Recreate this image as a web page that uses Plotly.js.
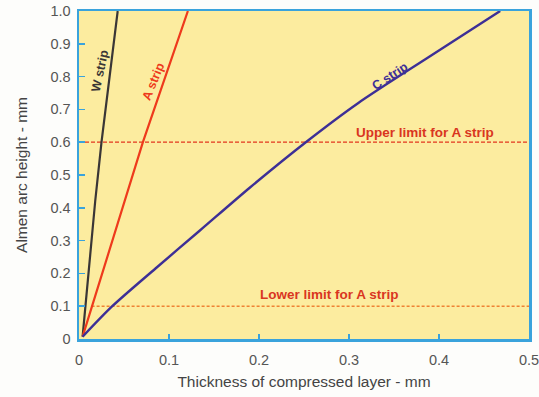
<!DOCTYPE html>
<html>
<head>
<meta charset="utf-8">
<script src="https://cdn.plot.ly/plotly-3.0.1.min.js"></script>
<style>html,body{margin:0;padding:0;background:#fdfdfb;}#chart{width:539px;height:397px;}</style>
</head>
<body>
<div id="chart"></div>
<script>
// Data (x: thickness mm, y: Almen arc height mm)
var wStripX = [0.004, 0.018, 0.025, 0.043];
var wStripY = [0.007, 0.42, 0.6, 1.0];
var aStripX = [0.004, 0.0585, 0.071, 0.121];
var aStripY = [0.007, 0.485, 0.6, 1.0];
var cStripX = [0.004, 0.037, 0.085, 0.134, 0.19, 0.252, 0.31, 0.39, 0.468];
var cStripY = [0.007, 0.1, 0.215, 0.33, 0.462, 0.6, 0.719, 0.862, 1.0];
var upperLimitX = [0, 0.5];
var upperLimitY = [0.6, 0.6];
var lowerLimitX = [0.014, 0.5];
var lowerLimitY = [0.1, 0.1];
var xTickVals = [0, 0.1, 0.2, 0.3, 0.4, 0.5];
var xTickText = ["0", "0.1", "0.2", "0.3", "0.4", "0.5"];
var yTickVals = [0, 0.1, 0.2, 0.3, 0.4, 0.5, 0.6, 0.7, 0.8, 0.9, 1.0];
var yTickText = ["0", "0.1", "0.2", "0.3", "0.4", "0.5", "0.6", "0.7", "0.8", "0.9", "1.0"];

var traces = [
  {x: upperLimitX, y: upperLimitY, mode: 'lines', line: {color: '#e2361f', width: 1.2, dash: '4px,2px'}, hoverinfo: 'skip', name: 'Upper limit'},
  {x: lowerLimitX, y: lowerLimitY, mode: 'lines', line: {color: '#ee8234', width: 1.6, dash: '3px,2px'}, hoverinfo: 'skip', name: 'Lower limit'},
  {x: wStripX, y: wStripY, mode: 'lines', line: {color: '#3a3636', width: 2.2}, name: 'W strip'},
  {x: aStripX, y: aStripY, mode: 'lines', line: {color: '#ee3a1c', width: 2.2}, name: 'A strip'},
  {x: cStripX, y: cStripY, mode: 'lines', line: {color: '#3d2f96', width: 2.4, shape: 'spline', smoothing: 0.8}, name: 'C strip'}
];

var font = "'Liberation Sans', Arial, sans-serif";
var layout = {
  width: 539, height: 397,
  margin: {l: 79, r: 10, t: 11, b: 58},
  paper_bgcolor: '#fdfdfb',
  plot_bgcolor: '#fcec9f',
  showlegend: false,
  font: {family: font, size: 14, color: '#555555'},
  xaxis: {
    range: [0, 0.5], tickvals: xTickVals, ticktext: xTickText,
    showgrid: false, zeroline: false,
    showline: true, mirror: true, linecolor: '#3aa3dc', linewidth: 2.5,
    ticks: 'inside', ticklen: 5, tickcolor: '#3aa3dc', tickwidth: 1.5,
    ticklabelstandoff: 6, ticklabeloverflow: 'allow',
    tickfont: {size: 14.5, color: '#555555'},
    title: {text: 'Thickness of compressed layer - mm', font: {size: 15.5, color: '#444444'}, standoff: 9}
  },
  yaxis: {
    range: [0, 1.0], tickvals: yTickVals, ticktext: yTickText,
    showgrid: false, zeroline: false,
    showline: true, mirror: true, linecolor: '#3aa3dc', linewidth: 2.5,
    ticks: 'inside', ticklen: 6, tickcolor: '#3aa3dc', tickwidth: 1.5,
    ticklabelstandoff: 3, ticklabeloverflow: 'allow',
    tickfont: {size: 14.5, color: '#555555'},
    title: {text: 'Almen arc height - mm', font: {size: 15.5, color: '#444444'}, standoff: 19}
  },
  annotations: [
    {x: 0.0234, y: 0.817, xref: 'x', yref: 'y', text: 'W strip', showarrow: false, textangle: -78,
     font: {family: font, size: 12.5, color: '#3a3636', weight: 'bold'}},
    {x: 0.0824, y: 0.784, xref: 'x', yref: 'y', text: 'A strip', showarrow: false, textangle: -68,
     font: {family: font, size: 12.5, color: '#ee3a1c', weight: 'bold'}},
    {x: 0.346, y: 0.802, xref: 'x', yref: 'y', text: 'C strip', showarrow: false, textangle: -33,
     font: {family: font, size: 12.5, color: '#3d2f96', weight: 'bold'}},
    {x: 0.384, y: 0.631, xref: 'x', yref: 'y', text: 'Upper limit for A strip', showarrow: false,
     font: {family: font, size: 13.5, color: '#d9361f', weight: 'bold'}},
    {x: 0.278, y: 0.137, xref: 'x', yref: 'y', text: 'Lower limit for A strip', showarrow: false,
     font: {family: font, size: 13.5, color: '#d9361f', weight: 'bold'}}
  ]
};

Plotly.newPlot('chart', traces, layout, {displayModeBar: false, staticPlot: true});
</script>
</body>
</html>
